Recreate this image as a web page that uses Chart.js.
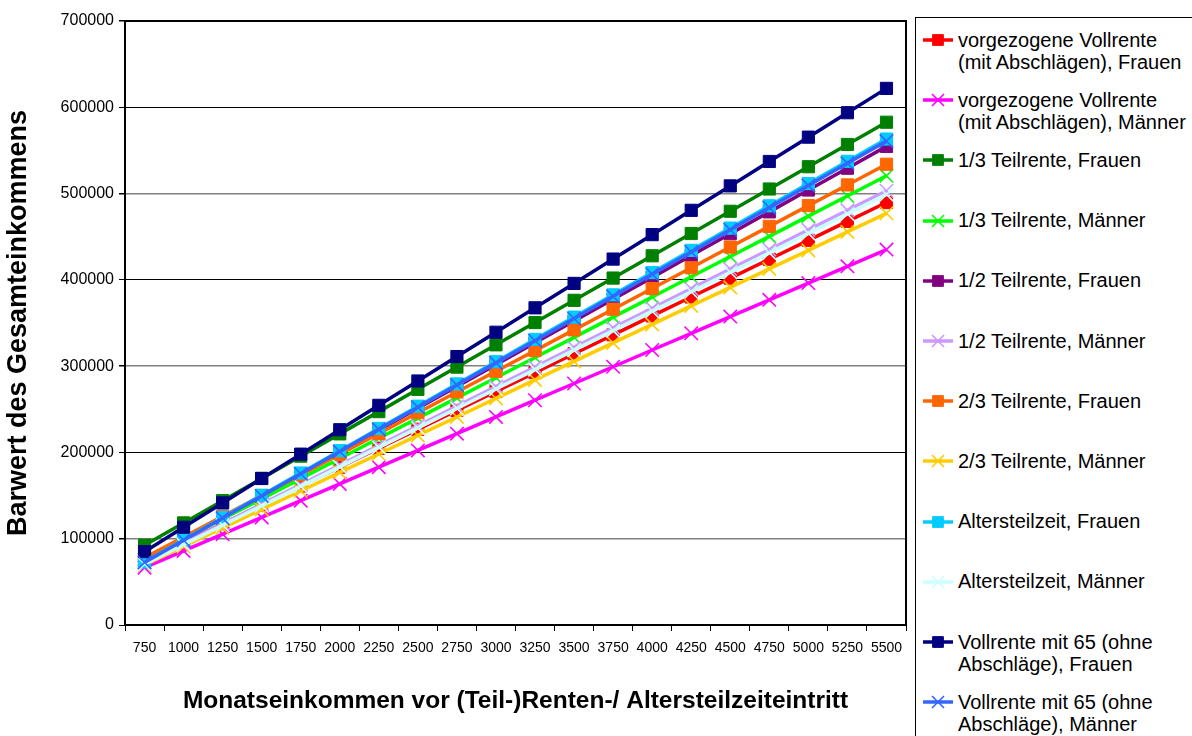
<!DOCTYPE html>
<html>
<head>
<meta charset="utf-8">
<script src="https://cdn.jsdelivr.net/npm/chart.js@4.4.1/dist/chart.umd.min.js"></script>
<style>
  html, body { margin: 0; padding: 0; background: #fff; }
  #wrap { position: relative; width: 1192px; height: 736px; overflow: hidden;
          font-family: "Liberation Sans", Arial, sans-serif; }
  #chart { position: absolute; left: 0; top: 0; }
  #legend { position: absolute; left: 915px; top: 17px; width: 300px; height: 740px;
            border: 1px solid #000; box-sizing: border-box; background: #fff; }
  .item { position: absolute; left: 0; width: 100%; }
  .item canvas { position: absolute; left: 5px; top: -8px; }
  .item span { position: absolute; left: 42px; top: -11.5px; font-size: 20px; line-height: 22.5px;
               white-space: nowrap; color: #000; }
</style>
</head>
<body>
<div id="wrap">
  <canvas id="chart" width="1192" height="736"></canvas>
  <div id="legend"></div>
</div>
<script>
// Monthly income before entering (partial) retirement / partial retirement scheme
const categories = ['750', '1000', '1250', '1500', '1750', '2000', '2250', '2500', '2750', '3000',
                    '3250', '3500', '3750', '4000', '4250', '4500', '4750', '5000', '5250', '5500'];

// Y axis range and tick step
const yMin = 0;
const yMax = 700000;
const yStep = 100000;

// Present value of total income per scenario
const vorgezogenFrauen = [73500, 95400, 117300, 139200, 161100, 183000, 204900, 226800, 248700, 270600,
                          292500, 314400, 336300, 358200, 380100, 402000, 423900, 445800, 467700, 489600];
const vorgezogenMaenner = [66500, 85900, 105300, 124700, 144100, 163500, 182900, 202300, 221700, 241100,
                           260500, 279900, 299300, 318700, 338100, 357500, 376900, 396300, 415700, 435100];
const drittelFrauen = [92500, 118300, 144100, 169900, 195700, 221500, 247300, 273100, 298900, 324700,
                       350500, 376300, 402100, 427900, 453700, 479500, 505300, 531100, 556900, 582700];
const drittelMaenner = [76000, 99400, 122800, 146200, 169600, 193000, 216400, 239800, 263200, 286600,
                        310000, 333400, 356800, 380200, 403600, 427000, 450400, 473800, 497200, 520600];
const halbFrauen = [74000, 99300, 124600, 149900, 175200, 200500, 225800, 251100, 276400, 301700,
                    327000, 352300, 377600, 402900, 428200, 453500, 478800, 504100, 529400, 554700];
const halbMaenner = [72000, 94700, 117400, 140100, 162800, 185500, 208200, 230900, 253600, 276300,
                     299000, 321700, 344400, 367100, 389800, 412500, 435200, 457900, 480600, 503300];
const zweiDrittelFrauen = [78000, 102000, 126000, 150000, 174000, 198000, 222000, 246000, 270000, 294000,
                           318000, 342000, 366000, 390000, 414000, 438000, 462000, 486000, 510000, 534000];
const zweiDrittelMaenner = [69500, 91000, 112400, 133900, 155300, 176800, 198200, 219700, 241100, 262600,
                            284000, 305500, 326900, 348400, 369800, 391300, 412700, 434200, 455600, 477100];
const atzFrauen = [73000, 98800, 124600, 150400, 176200, 202000, 227800, 253600, 279400, 305200,
                   331000, 356800, 382600, 408400, 434200, 460000, 485800, 511600, 537400, 563200];
const atzMaenner = [70500, 93100, 115600, 138200, 160700, 183300, 205800, 228400, 250900, 273500,
                    296000, 318600, 341100, 363700, 386200, 408800, 431300, 453900, 476400, 499000];
const vollrente65Frauen = [85000, 113300, 141500, 169800, 198000, 226300, 254600, 282800, 311100, 339300,
                           367600, 395900, 424100, 452400, 480600, 508900, 537200, 565400, 593700, 621900];
const vollrente65Maenner = [72500, 98200, 123900, 149600, 175300, 201000, 226700, 252400, 278100, 303800,
                            329500, 355200, 380900, 406600, 432300, 458000, 483700, 509400, 535100, 560800];

const seriesLabels = [
  'vorgezogene Vollrente\n(mit Abschlägen), Frauen',
  'vorgezogene Vollrente\n(mit Abschlägen), Männer',
  '1/3 Teilrente, Frauen',
  '1/3 Teilrente, Männer',
  '1/2 Teilrente, Frauen',
  '1/2 Teilrente, Männer',
  '2/3 Teilrente, Frauen',
  '2/3 Teilrente, Männer',
  'Altersteilzeit, Frauen',
  'Altersteilzeit, Männer',
  'Vollrente mit 65 (ohne\nAbschläge), Frauen',
  'Vollrente mit 65 (ohne\nAbschläge), Männer'
];
const seriesValues = [vorgezogenFrauen, vorgezogenMaenner, drittelFrauen, drittelMaenner,
                      halbFrauen, halbMaenner, zweiDrittelFrauen, zweiDrittelMaenner,
                      atzFrauen, atzMaenner, vollrente65Frauen, vollrente65Maenner];
const seriesColors = ['#FF0000', '#FF00FF', '#008000', '#00FF00', '#800080', '#CC99FF',
                      '#FF6600', '#FFCC00', '#00CCFF', '#CCFFFF', '#000080', '#3366FF'];
// Women: filled squares, men: diagonal crosses
const seriesMarkers = ['rect', 'crossRot', 'rect', 'crossRot', 'rect', 'crossRot',
                       'rect', 'crossRot', 'rect', 'crossRot', 'rect', 'crossRot'];

const FONT = '"Liberation Sans", Arial, sans-serif';
Chart.defaults.font.family = FONT;
Chart.defaults.color = '#000';

const markerRadius = m => (m === 'rect' ? 8.6 : 9.5);
const markerBorder = m => (m === 'rect' ? 1 : 1.6);

const datasets = seriesValues.map((vals, i) => ({
  label: seriesLabels[i].replace('\n', ' '),
  data: vals,
  borderColor: seriesColors[i],
  backgroundColor: seriesColors[i],
  borderWidth: 3.5,
  pointStyle: seriesMarkers[i],
  pointRadius: markerRadius(seriesMarkers[i]),
  pointBorderWidth: markerBorder(seriesMarkers[i]),
  pointBackgroundColor: seriesColors[i],
  pointBorderColor: seriesColors[i],
  tension: 0,
  fill: false,
  // later series are painted over earlier ones
  order: seriesValues.length - i
}));

// Top and right edges of the plot frame
const plotFrame = {
  id: 'plotFrame',
  beforeDatasetsDraw(chart) {
    const { ctx, chartArea: a } = chart;
    ctx.save();
    ctx.strokeStyle = '#000';
    ctx.lineWidth = 2;
    ctx.beginPath();
    ctx.moveTo(a.left, a.top);
    ctx.lineTo(a.right, a.top);
    ctx.lineTo(a.right, a.bottom);
    ctx.stroke();
    ctx.restore();
  }
};

new Chart(document.getElementById('chart'), {
  type: 'line',
  data: { labels: categories, datasets },
  plugins: [plotFrame],
  options: {
    responsive: false,
    animation: false,
    layout: { padding: { left: 0, top: 21, right: 286, bottom: 0 } },
    plugins: { legend: { display: false }, tooltip: { enabled: false } },
    scales: {
      x: {
        type: 'category',
        offset: true,
        grid: { offset: true, drawOnChartArea: false, tickLength: 6, color: '#000', lineWidth: 1 },
        border: { color: '#000', width: 2 },
        ticks: { color: '#000', font: { size: 14 }, padding: 9, maxRotation: 0, autoSkip: false },
        title: {
          display: true,
          text: 'Monatseinkommen vor (Teil-)Renten-/ Altersteilzeiteintritt',
          color: '#000',
          font: { size: 24.5, weight: 'bold' },
          padding: { top: 4, bottom: 20 }
        },
        afterFit(scale) { scale.height = 111; }
      },
      y: {
        min: yMin,
        max: yMax,
        ticks: { stepSize: yStep, color: '#000', font: { size: 16 }, padding: 5,
                 callback: v => String(v) },
        grid: {
          tickLength: 6,
          tickColor: '#000',
          color: c => (c.tick && c.tick.value % 200000 === 0 ? '#000' : '#808080'),
          lineWidth: c => (c.tick && c.tick.value % 200000 === 0 ? 1 : 1.5)
        },
        border: { color: '#000', width: 2 },
        title: {
          display: true,
          text: 'Barwert des Gesamteinkommens',
          color: '#000',
          font: { size: 27, weight: 'bold' },
          padding: { top: 2, bottom: 4 }
        },
        afterFit(scale) { scale.width = 125; }
      }
    }
  }
});

// Legend box on the right
const legend = document.getElementById('legend');
const drawPoint = (Chart.helpers && Chart.helpers.drawPoint) || null;
seriesLabels.forEach((lab, i) => {
  const item = document.createElement('div');
  item.className = 'item';
  item.style.top = (22 + i * 60.2) + 'px';
  const cv = document.createElement('canvas');
  cv.width = 34; cv.height = 16;
  const c = cv.getContext('2d');
  c.strokeStyle = seriesColors[i];
  c.fillStyle = seriesColors[i];
  c.lineWidth = 3.5;
  c.beginPath(); c.moveTo(2, 8); c.lineTo(32, 8); c.stroke();
  const m = seriesMarkers[i];
  c.lineWidth = markerBorder(m);
  if (drawPoint) {
    drawPoint(c, { pointStyle: m, radius: m === 'rect' ? 7.6 : 8.5, borderWidth: markerBorder(m), rotation: 0 }, 17, 8);
  }
  item.appendChild(cv);
  const sp = document.createElement('span');
  sp.innerHTML = lab.split('\n').join('<br>');
  item.appendChild(sp);
  legend.appendChild(item);
});
</script>
</body>
</html>
